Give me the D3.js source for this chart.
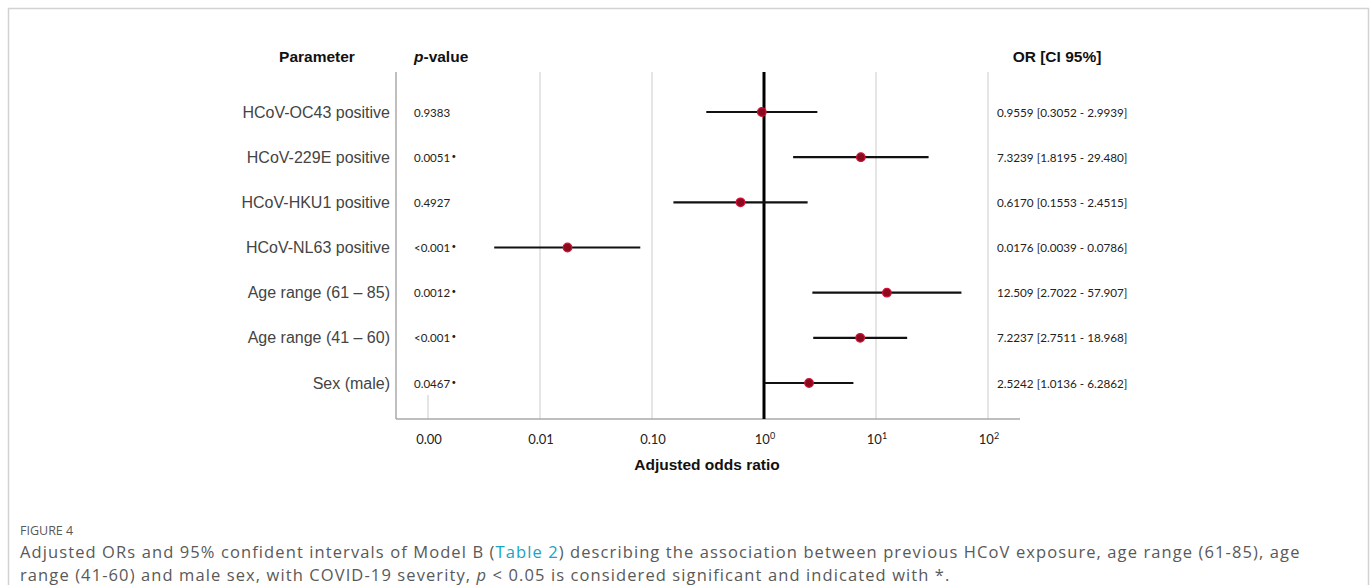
<!DOCTYPE html>
<html>
<head>
<meta charset="utf-8">
<script src="https://cdn.jsdelivr.net/npm/d3@7"></script>
<style>
  body { margin: 0; background: #fff; }
  svg { display: block; }
</style>
</head>
<body>
<div class="forest"></div>
<script>
// forest plot data
var parameters = ["HCoV-OC43 positive", "HCoV-229E positive", "HCoV-HKU1 positive", "HCoV-NL63 positive",
                  "Age range (61 \u2013 85)", "Age range (41 \u2013 60)", "Sex (male)"];
var pValues = ["0.9383", "0.0051*", "0.4927", "<0.001*", "0.0012*", "<0.001*", "0.0467*"];
var oddsRatio = [0.9559, 7.3239, 0.6170, 0.0176, 12.509, 7.2237, 2.5242];
var ciLow = [0.3052, 1.8195, 0.1553, 0.0039, 2.7022, 2.7511, 1.0136];
var ciHigh = [2.9939, 29.480, 2.4515, 0.0786, 57.907, 18.968, 6.2862];
var orText = ["0.9559 [0.3052 - 2.9939]", "7.3239 [1.8195 - 29.480]", "0.6170 [0.1553 - 2.4515]",
              "0.0176 [0.0039 - 0.0786]", "12.509 [2.7022 - 57.907]", "7.2237 [2.7511 - 18.968]",
              "2.5242 [1.0136 - 6.2862]"];
var tickValues = [0.001, 0.01, 0.1, 1, 10, 100];
var tickLabels = ["0.00", "0.01", "0.10", "10|0", "10|1", "10|2"];

var width = 1372, height = 585;

var svg = d3.select(".forest")
    .append("svg")
    .attr("width", width)
    .attr("height", height);

// grey frame round the figure (it runs off the bottom)
svg.append("rect")
    .attr("x", 8.5).attr("y", 8.5)
    .attr("width", 1360).attr("height", 620)
    .attr("fill", "none")
    .attr("stroke", "#d2d2d2")
    .attr("stroke-width", 1.5);

// scales
var xScale = d3.scaleLog()
    .domain([0.001, 100])
    .range([428, 988]);

var yScale = d3.scalePoint()
    .domain(parameters)
    .range([112, 383]);

var plotTop = 72, plotBottom = 419;

// gridlines first so everything sits on top
svg.selectAll(".grid")
    .data(tickValues.filter(function(d){ return d !== 1; }))
    .enter().append("line")
    .attr("class", "grid")
    .attr("x1", function(d){ return xScale(d); })
    .attr("x2", function(d){ return xScale(d); })
    .attr("y1", function(d){ return d === 0.001 ? 395 : plotTop; })
    .attr("y2", plotBottom)
    .attr("stroke", "#dcdcdc")
    .attr("stroke-width", 1.5);

// axes lines
svg.append("line")
    .attr("x1", 396).attr("x2", 396)
    .attr("y1", plotTop).attr("y2", plotBottom)
    .attr("stroke", "#a8a8a8").attr("stroke-width", 1.5);

svg.append("line")
    .attr("x1", 396).attr("x2", 1020)
    .attr("y1", plotBottom).attr("y2", plotBottom)
    .attr("stroke", "#a8a8a8").attr("stroke-width", 1.5);

// reference line at OR = 1
svg.append("line")
    .attr("x1", xScale(1)).attr("x2", xScale(1))
    .attr("y1", plotTop).attr("y2", plotBottom)
    .attr("stroke", "#000").attr("stroke-width", 3);

// confidence intervals
svg.selectAll(".ci")
    .data(parameters)
    .enter().append("line")
    .attr("class", "ci")
    .attr("x1", function(d, i){ return xScale(ciLow[i]); })
    .attr("x2", function(d, i){ return xScale(ciHigh[i]); })
    .attr("y1", function(d){ return yScale(d); })
    .attr("y2", function(d){ return yScale(d); })
    .attr("stroke", "#111")
    .attr("stroke-width", 2.2);

// point estimates
svg.selectAll(".dot")
    .data(parameters)
    .enter().append("circle")
    .attr("class", "dot")
    .attr("cx", function(d, i){ return xScale(oddsRatio[i]); })
    .attr("cy", function(d){ return yScale(d); })
    .attr("r", 4.3)
    .attr("fill", "#8a0a1e")
    .attr("stroke", "#d4103a")
    .attr("stroke-width", 1.2);

// column headers
var header = svg.append("g")
    .attr("font-family", "'Liberation Sans', Arial, sans-serif")
    .attr("font-weight", "bold")
    .attr("font-size", 15.5)
    .attr("fill", "#111");

header.append("text").attr("x", 317).attr("y", 62).attr("text-anchor", "middle").text("Parameter");
var pHead = header.append("text").attr("x", 414).attr("y", 62);
pHead.append("tspan").attr("font-style", "italic").text("p");
pHead.append("tspan").text("-value");
header.append("text").attr("x", 1057).attr("y", 62).attr("text-anchor", "middle").text("OR [CI 95%]");

// row labels
svg.selectAll(".label")
    .data(parameters)
    .enter().append("text")
    .attr("class", "label")
    .attr("x", 390)
    .attr("y", function(d){ return yScale(d) + 5.5; })
    .attr("text-anchor", "end")
    .attr("font-family", "'Liberation Sans', Arial, sans-serif")
    .attr("font-size", 16)
    .attr("fill", "#444")
    .text(function(d){ return d; });

// p values and OR text (calibri-ish in the original)
var pv = svg.selectAll(".pval")
    .data(pValues)
    .enter().append("text")
    .attr("class", "pval")
    .attr("x", 414)
    .attr("y", function(d, i){ return yScale(parameters[i]) + 4.5; })
    .attr("font-family", "Lato, sans-serif")
    .attr("font-size", 11.5)
    .attr("fill", "#222");

// significance star shows up as a small raised dot
pv.each(function(d){
    var t = d3.select(this);
    t.append("tspan").text(d.replace("*", ""));
    if (d.indexOf("*") > -1) {
        t.append("tspan").attr("dx", 1.5).attr("dy", -3).attr("font-size", 8).text("\u2022");
    }
});

svg.selectAll(".ortext")
    .data(orText)
    .enter().append("text")
    .attr("class", "ortext")
    .attr("x", 997)
    .attr("y", function(d, i){ return yScale(parameters[i]) + 4.5; })
    .attr("font-family", "Lato, sans-serif")
    .attr("font-size", 11.7)
    .attr("fill", "#222")
    .text(function(d){ return d; });

// tick labels, powers of ten get a superscript
var ticks = svg.selectAll(".tick")
    .data(tickValues)
    .enter().append("text")
    .attr("class", "tick")
    .attr("x", function(d){ return xScale(d) + 1; })
    .attr("y", 444)
    .attr("text-anchor", "middle")
    .attr("font-family", "Lato, sans-serif")
    .attr("font-size", 13)
    .attr("fill", "#222");

ticks.each(function(d, i){
    var parts = tickLabels[i].split("|");
    var t = d3.select(this);
    t.append("tspan").text(parts[0]);
    if (parts.length > 1) {
        t.append("tspan")
            .attr("dy", -5)
            .attr("font-size", 9)
            .text(parts[1]);
    }
});

svg.append("text")
    .attr("x", 707).attr("y", 470)
    .attr("text-anchor", "middle")
    .attr("font-family", "'Liberation Sans', Arial, sans-serif")
    .attr("font-weight", "bold")
    .attr("font-size", 15.5)
    .attr("fill", "#111")
    .text("Adjusted odds ratio");

// caption under the figure
var cap = svg.append("g")
    .attr("font-family", "'Open Sans', sans-serif")
    .attr("fill", "#595959");

cap.append("text")
    .attr("x", 20).attr("y", 535)
    .attr("font-size", 12.5)
    .text("FIGURE 4");

var line1 = cap.append("text").attr("x", 20).attr("y", 558)
    .attr("font-size", 16.5).attr("letter-spacing", 1.1);
line1.append("tspan").text("Adjusted ORs and 95% confident intervals of Model B (");
line1.append("tspan").attr("fill", "#1aa3c2").text("Table 2");
line1.append("tspan").text(") describing the association between previous HCoV exposure, age range (61-85), age");

var line2 = cap.append("text").attr("x", 20).attr("y", 580.5)
    .attr("font-size", 16.5).attr("letter-spacing", 1.1);
line2.append("tspan").text("range (41-60) and male sex, with COVID-19 severity, ");
line2.append("tspan").attr("font-style", "italic").text("p");
line2.append("tspan").text(" < 0.05 is considered significant and indicated with *.");
</script>
</body>
</html>
